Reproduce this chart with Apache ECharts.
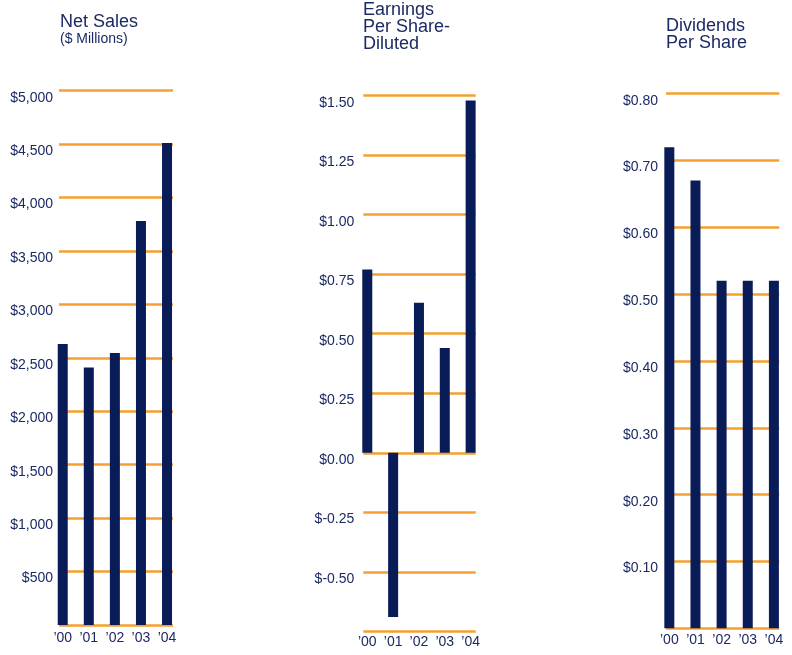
<!DOCTYPE html>
<html>
<head>
<meta charset="utf-8">
<script src="https://cdn.jsdelivr.net/npm/echarts@6/dist/echarts.min.js"></script>
<style>
html,body{margin:0;padding:0;background:#fff;}
#c{width:792px;height:655px;}
</style>
</head>
<body>
<div id="c"></div>
<script>
// ---- data ----
const categories = ["’00", "’01", "’02", "’03", "’04"];
const netSales = [2630, 2410, 2545, 3780, 4510];          // $ millions
const epsDiluted = [0.77, -0.69, 0.63, 0.44, 1.48];       // $
const dividends = [0.72, 0.67, 0.52, 0.52, 0.52];          // $
const netSalesTicks = {min: 0, max: 5000, interval: 500};
const epsTicks = {min: -0.75, max: 1.5, interval: 0.25};
const divTicks = {min: 0, max: 0.8, interval: 0.1};

// ---- style ----
const NAVY = '#0A1C57';
const TEXT = '#1C2A64';
const ORANGE = '#F5A030';
const FONT = '"Liberation Sans", Arial, Helvetica, sans-serif';

const chart = echarts.init(document.getElementById('c'), null, {renderer: 'canvas'});

const panels = [
  {grid: {left: 59, top: 90.7, width: 114, height: 534.3}, xr: [-0.143, 4.229], xm: 6, ym: 6,
   ticks: netSalesTicks, data: netSales,
   fmt: v => '$' + v.toLocaleString('en-US')},
  {grid: {left: 363.3, top: 95.7, width: 112.4, height: 535.6}, xr: [-0.154, 4.196], xm: 4, ym: 9,
   ticks: epsTicks, data: epsDiluted,
   fmt: v => '$' + v.toFixed(2)},
  {grid: {left: 666, top: 93.7, width: 113.3, height: 534.6}, xr: [-0.127, 4.206], xm: 5, ym: 8,
   ticks: divTicks, data: dividends,
   fmt: v => '$' + v.toFixed(2)}
];

const idx = categories.map((c, i) => i);

const option = {
  backgroundColor: '#ffffff',
  animation: false,
  title: [
    {text: 'Net Sales', left: 60, top: 13.5, padding: 0,
     textStyle: {fontFamily: FONT, fontSize: 18, fontWeight: 'normal', color: TEXT, lineHeight: 17}},
    {text: '($ Millions)', left: 60, top: 32, padding: 0,
     textStyle: {fontFamily: FONT, fontSize: 14, fontWeight: 'normal', color: TEXT, lineHeight: 14}},
    {text: 'Earnings\nPer Share-\nDiluted', left: 363, top: 1.5, padding: 0,
     textStyle: {fontFamily: FONT, fontSize: 18, fontWeight: 'normal', color: TEXT, lineHeight: 17}},
    {text: 'Dividends\nPer Share', left: 666, top: 18, padding: 0,
     textStyle: {fontFamily: FONT, fontSize: 18, fontWeight: 'normal', color: TEXT, lineHeight: 17}}
  ],
  grid: panels.map(p => Object.assign({containLabel: false}, p.grid)),
  xAxis: panels.map((p, i) => ({
    type: 'value', gridIndex: i, min: p.xr[0], max: p.xr[1],
    axisLine: {show: false}, axisTick: {show: false, customValues: idx},
    splitLine: {show: false},
    axisLabel: {
      customValues: idx, margin: p.xm, verticalAlign: 'top',
      fontFamily: FONT, fontSize: 14, color: TEXT,
      formatter: v => categories[Math.round(v)] || ''
    }
  })),
  yAxis: panels.map((p, i) => ({
    type: 'value', gridIndex: i, min: p.ticks.min, max: p.ticks.max, interval: p.ticks.interval,
    axisLine: {show: false}, axisTick: {show: false},
    splitLine: {show: true, lineStyle: {color: ORANGE, width: 2.5}},
    axisLabel: {
      showMinLabel: false, margin: p.ym, verticalAlign: 'top',
      fontFamily: FONT, fontSize: 14, color: TEXT,
      formatter: p.fmt
    }
  })),
  series: panels.map((p, i) => ({
    type: 'bar', xAxisIndex: i, yAxisIndex: i,
    barWidth: 10,
    itemStyle: {color: NAVY},
    data: p.data.map((v, k) => [idx[k], v])
  }))
};

chart.setOption(option);
</script>
</body>
</html>
